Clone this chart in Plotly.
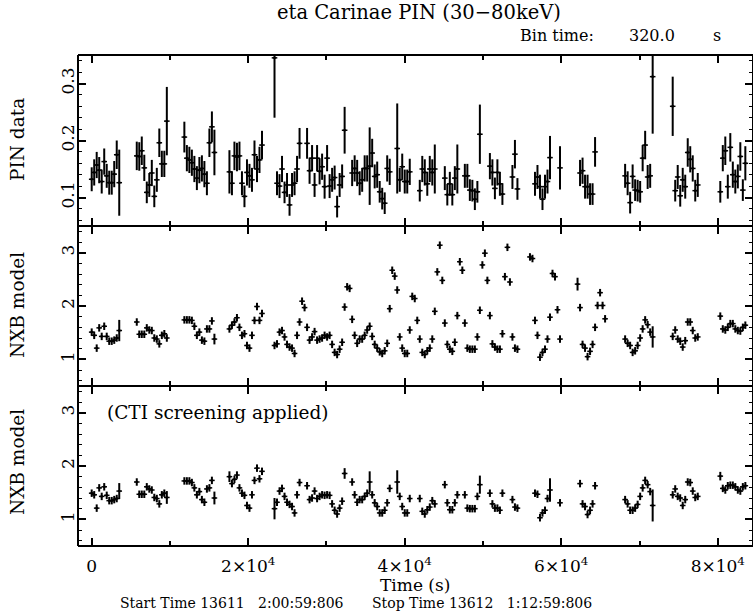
import plotly.graph_objects as go
from plotly.subplots import make_subplots

bin_time = 320.0  # s

# first time bin of each stretch that survives the screening (PIN and CTI panels)
kept_start = [0, 18, 37, 55, 73, 86, 104, 122, 131, 141, 149, 159, 168, 177, 187, 195, 213, 232, 251]

pin_rate = [
    [0.132, 0.144, 0.157, 0.148, 0.128, 0.163, 0.138, 0.126, 0.126, 0.141, 0.175, 0.126],
    [0.173, 0.172, 0.182, 0.152, 0.109, 0.122, 0.143, 0.102, 0.131, 0.196, 0.159, 0.159, 0.234],
    [0.206, 0.169, 0.166, 0.161, 0.150, 0.134, 0.148, 0.151, 0.141, 0.125, 0.196, 0.224, 0.179],
    [0.145, 0.125, 0.173, 0.171, 0.173, 0.125, 0.102, 0.144, 0.138, 0.131, 0.175, 0.150, 0.166, 0.192],
    [0.345, 0.125, 0.120, 0.150, 0.109, 0.122, 0.087, 0.122, 0.125, 0.150, 0.195],
    [0.195, 0.147, 0.169, 0.122, 0.169, 0.146, 0.154, 0.119, 0.169, 0.120, 0.131, 0.135, 0.084, 0.122, 0.137, 0.218],
    [0.143, 0.151, 0.143, 0.125, 0.131, 0.151, 0.151, 0.155, 0.178, 0.137, 0.140, 0.110, 0.098, 0.090, 0.151, 0.145],
    [0.186, 0.131, 0.154, 0.128, 0.128, 0.145],
    [0.112, 0.150, 0.144, 0.124, 0.150, 0.144, 0.150],
    [0.134, 0.105, 0.124, 0.105, 0.134, 0.150],
    [0.138, 0.138, 0.113, 0.112, 0.097, 0.110, 0.211],
    [0.155, 0.144, 0.116, 0.144, 0.124, 0.106],
    [0.136, 0.176, 0.115],
    [0.124, 0.136, 0.119, 0.097, 0.119, 0.128, 0.170],
    [0.152],
    [0.143, 0.147, 0.119, 0.119, 0.106, 0.106, 0.180],
    [0.138, 0.125, 0.091, 0.137, 0.113, 0.112, 0.110, 0.169, 0.192, 0.136, 0.138, 0.312],
    [0.260, 0.112, 0.136, 0.103, 0.131, 0.119, 0.179, 0.167, 0.151, 0.112, 0.122],
    [0.110, 0.169, 0.182, 0.119, 0.188, 0.140, 0.128, 0.137, 0.172, 0.113, 0.160],
]

pin_err = [
    [0.021, 0.023, 0.023, 0.023, 0.021, 0.023, 0.021, 0.021, 0.021, 0.023, 0.025, 0.058],
    [0.025, 0.025, 0.025, 0.023, 0.019, 0.021, 0.023, 0.019, 0.021, 0.025, 0.023, 0.023, 0.060],
    [0.027, 0.023, 0.023, 0.023, 0.023, 0.021, 0.023, 0.023, 0.023, 0.021, 0.025, 0.027, 0.040],
    [0.038, 0.021, 0.025, 0.025, 0.025, 0.021, 0.019, 0.023, 0.021, 0.021, 0.025, 0.023, 0.023, 0.025],
    [0.105, 0.021, 0.021, 0.023, 0.019, 0.021, 0.019, 0.021, 0.021, 0.023, 0.027],
    [0.027, 0.023, 0.023, 0.021, 0.023, 0.023, 0.023, 0.021, 0.023, 0.021, 0.021, 0.021, 0.019, 0.021, 0.021, 0.041],
    [0.023, 0.023, 0.023, 0.021, 0.021, 0.023, 0.023, 0.068, 0.025, 0.021, 0.023, 0.019, 0.019, 0.019, 0.023, 0.023],
    [0.079, 0.021, 0.023, 0.021, 0.021, 0.023],
    [0.019, 0.023, 0.023, 0.021, 0.023, 0.023, 0.043],
    [0.021, 0.019, 0.021, 0.019, 0.021, 0.043],
    [0.021, 0.021, 0.019, 0.019, 0.019, 0.019, 0.052],
    [0.023, 0.023, 0.019, 0.023, 0.021, 0.019],
    [0.021, 0.025, 0.019],
    [0.021, 0.021, 0.021, 0.019, 0.021, 0.021, 0.038],
    [0.038],
    [0.023, 0.023, 0.021, 0.021, 0.019, 0.019, 0.026],
    [0.021, 0.021, 0.019, 0.021, 0.019, 0.019, 0.019, 0.023, 0.025, 0.021, 0.021, 0.100],
    [0.052, 0.019, 0.021, 0.019, 0.021, 0.021, 0.025, 0.023, 0.023, 0.019, 0.021],
    [0.019, 0.023, 0.025, 0.021, 0.025, 0.023, 0.021, 0.021, 0.025, 0.019, 0.030],
]

# NXB model, all bins
nxb_start = [0, 18, 37, 55, 73, 175, 194, 213, 232, 251]
nxb = [
    [1.51, 1.45, 1.21, 1.59, 1.43, 1.62, 1.43, 1.34, 1.34, 1.36, 1.40, 1.54],
    [1.70, 1.47, 1.47, 1.47, 1.59, 1.55, 1.54, 1.40, 1.38, 1.29, 1.45, 1.48, 1.40],
    [1.74, 1.74, 1.74, 1.73, 1.62, 1.45, 1.51, 1.36, 1.34, 1.57, 1.57, 1.72, 1.38],
    [1.57, 1.64, 1.70, 1.78, 1.60, 1.45, 1.48, 1.26, 1.21, 1.45, 1.73, 1.99, 1.73, 1.86],
    [1.26, 1.29, 1.51, 1.54, 1.42, 1.28, 1.23, 1.21, 1.11, 1.45,
     1.70, 2.09, 1.97, 1.60, 1.36, 1.42, 1.52, 1.36, 1.38, 1.40,
     1.45, 1.42, 1.45, 1.28, 1.13, 1.09, 1.19, 1.32, 1.98, 2.36,
     2.33, 1.75, 1.45, 1.30, 1.38, 1.38, 1.45, 1.55, 1.62, 1.43,
     1.28, 1.21, 1.14, 1.11, 1.16, 1.30, 1.95, 2.67, 2.56, 2.30,
     1.42, 1.21, 1.11, 1.11, 1.55, 2.18, 2.14, 1.73, 1.38, 1.13,
     1.09, 1.16, 1.21, 1.38, 1.90, 2.64, 3.14, 2.48, 1.68, 1.28,
     1.19, 1.15, 1.32, 1.82, 2.83, 2.67, 1.68, 1.21, 1.19, 1.19,
     1.19, 1.42, 1.92, 2.77, 2.99, 2.48, 1.82, 1.29, 1.23, 1.19,
     1.19, 1.48, 2.55, 3.10, 2.45, 1.42, 1.21, 1.19],
    [2.92, 2.89, 1.73, 1.45, 1.04, 1.13, 1.19, 1.38, 1.79, 2.61, 2.55, 1.93, 1.38],
    [2.41, 1.97, 1.28, 1.21, 1.05, 1.15, 1.28, 1.60, 2.01, 2.25, 2.01, 1.76],
    [1.38, 1.30, 1.26, 1.13, 1.16, 1.26, 1.40, 1.57, 1.74, 1.65, 1.51, 1.42],
    [1.43, 1.55, 1.38, 1.34, 1.23, 1.35, 1.70, 1.70, 1.54, 1.40, 1.42],
    [1.81, 1.57, 1.55, 1.60, 1.67, 1.67, 1.57, 1.54, 1.53, 1.60, 1.64],
]
nxb_err_typ = 0.07
nxb_err_wide = {11: 0.20, 49: 0.10, 194: 0.12, 224: 0.20}

# NXB model after CTI screening (same bins as PIN)
cti_nxb = [
    [1.49, 1.46, 1.21, 1.59, 1.43, 1.61, 1.45, 1.35, 1.35, 1.37, 1.39, 1.53],
    [1.70, 1.47, 1.47, 1.47, 1.61, 1.57, 1.55, 1.41, 1.39, 1.29, 1.46, 1.49, 1.41],
    [1.72, 1.72, 1.72, 1.69, 1.59, 1.46, 1.52, 1.37, 1.32, 1.57, 1.59, 1.73, 1.40],
    [1.80, 1.67, 1.75, 1.83, 1.59, 1.49, 1.45, 1.26, 1.21, 1.46, 1.73, 1.96, 1.76, 1.90],
    [1.20, 1.32, 1.53, 1.58, 1.43, 1.32, 1.28, 1.24, 1.12, 1.46, 1.69],
    [1.63, 1.37, 1.40, 1.53, 1.39, 1.43, 1.46, 1.45, 1.46, 1.45, 1.29, 1.17, 1.10, 1.21, 1.34, 1.86],
    [1.70, 1.46, 1.32, 1.37, 1.37, 1.43, 1.49, 1.70, 1.46, 1.31, 1.24, 1.12, 1.12, 1.17, 1.31, 1.58],
    [1.70, 1.43, 1.24, 1.12, 1.12, 1.39],
    [1.39, 1.15, 1.10, 1.18, 1.23, 1.35, 1.29],
    [1.65, 1.31, 1.18, 1.18, 1.31, 1.46],
    [1.46, 1.21, 1.20, 1.20, 1.20, 1.43, 1.65],
    [1.49, 1.29, 1.21, 1.21, 1.17, 1.49],
    [1.37, 1.23, 1.21],
    [1.49, 1.47, 1.03, 1.12, 1.17, 1.39, 1.55],
    [1.31],
    [1.67, 1.29, 1.24, 1.09, 1.17, 1.29, 1.63],
    [1.37, 1.29, 1.17, 1.17, 1.21, 1.28, 1.43, 1.59, 1.73, 1.65, 1.52, 1.26],
    [1.46, 1.57, 1.43, 1.40, 1.26, 1.37, 1.70, 1.69, 1.53, 1.41, 1.43],
    [1.81, 1.58, 1.55, 1.63, 1.64, 1.64, 1.61, 1.55, 1.53, 1.61, 1.63],
]
cti_err_typ = 0.07
cti_err_wide = {11: 0.15, 30: 0.12, 49: 0.12, 55: 0.10, 73: 0.20, 101: 0.10,
                111: 0.20, 122: 0.22, 155: 0.17, 183: 0.22, 224: 0.30, 251: 0.08}

FONT = "DejaVu Serif"
L, R, T, B = 78, 753, 55, 546
ROW_H = [171, 160, 160]


def px(x):
    return (x - L) / (R - L)


def py(y):
    return (B - y) / (B - T)


def unroll(starts, segs):
    bins, vals = [], []
    for s, seg in zip(starts, segs):
        for i, v in enumerate(seg):
            bins.append(s + i)
            vals.append(v)
    return bins, vals


fig = make_subplots(rows=3, cols=1, shared_xaxes=True, vertical_spacing=0,
                    row_heights=ROW_H)


def add_lc(row, bins, vals, errs):
    fig.add_trace(go.Scatter(
        x=[b * bin_time for b in bins], y=vals, mode="markers",
        marker=dict(symbol="line-ew", size=4, line=dict(width=1.5, color="black"), color="black"),
        error_y=dict(type="data", array=errs, color="black", thickness=2, width=0),
        error_x=dict(type="constant", value=bin_time / 2, color="black", thickness=2, width=0),
        showlegend=False, hoverinfo="skip"), row=row, col=1)


b1, v1 = unroll(kept_start, pin_rate)
add_lc(1, b1, v1, unroll(kept_start, pin_err)[1])

b2, v2 = unroll(nxb_start, nxb)
add_lc(2, b2, v2, [nxb_err_wide.get(b, nxb_err_typ) for b in b2])

b3, v3 = unroll(kept_start, cti_nxb)
add_lc(3, b3, v3, [cti_err_wide.get(b, cti_err_typ) for b in b3])

# frame lines are drawn as shapes so the shared panel edges stay one line thick
axis_common = dict(
    showline=False, mirror="ticks",
    ticks="inside", ticklen=8, tickwidth=1.5, tickcolor="black",
    showgrid=False, zeroline=False,
    tickfont=dict(family=FONT, size=17, color="black"),
)

for r in (1, 2, 3):
    fig.update_xaxes(
        range=[-1750, 84500], tickmode="array",
        tickvals=[0, 20000, 40000, 60000, 80000],
        ticktext=["0", "2×10<sup>4</sup>", "4×10<sup>4</sup>", "6×10<sup>4</sup>", "8×10<sup>4</sup>"],
        minor=dict(ticks="inside", dtick=10000, tick0=0, ticklen=5, tickwidth=1.5, tickcolor="black"),
        ticklabelstandoff=8,
        row=r, col=1, **axis_common)

fig.update_yaxes(range=[0.05, 0.35], tickmode="array", tickvals=[0.1, 0.2, 0.3],
                 ticktext=["0.1", "0.2", "0.3"], tickangle=-90,
                 minor=dict(ticks="inside", dtick=0.02, tick0=0, ticklen=4, tickwidth=1, tickcolor="black"),
                 row=1, col=1, **axis_common)
for r in (2, 3):
    fig.update_yaxes(range=[0.5, 3.5], tickmode="array", tickvals=[1, 2, 3],
                     ticktext=["1", "2", "3"], tickangle=-90,
                     minor=dict(ticks="inside", dtick=0.2, tick0=0, ticklen=4, tickwidth=1, tickcolor="black"),
                     row=r, col=1, **axis_common)

edges = [T, T + ROW_H[0], T + ROW_H[0] + ROW_H[1], B]
for e in edges:
    fig.add_shape(type="line", xref="paper", yref="paper", x0=0, x1=1, y0=py(e), y1=py(e),
                  line=dict(color="black", width=2), layer="above")
for xe in (0, 1):
    fig.add_shape(type="line", xref="paper", yref="paper", x0=xe, x1=xe, y0=0, y1=1,
                  line=dict(color="black", width=2), layer="above")


def label(text, x, y, size=17, xanchor="center", angle=0):
    fig.add_annotation(text=text, x=px(x), y=py(y), xref="paper", yref="paper",
                       xanchor=xanchor, yanchor="middle", showarrow=False, textangle=angle,
                       font=dict(family=FONT, size=size, color="black"))


label("eta Carinae PIN (30−80keV)", 419, 13, size=19.5)
label("Bin time:", 518, 35, size=16, xanchor="left")
label("320.0", 627, 35, size=16, xanchor="left")
label("s", 711, 35, size=16, xanchor="left")
label("PIN data", 17, 140, size=18.5, angle=-90)
label("NXB model", 17, 305, size=18.5, angle=-90)
label("NXB model", 17, 462, size=18.5, angle=-90)
label("(CTI screening applied)", 105, 412, size=18.5, xanchor="left")
label("Time (s)", 415, 585)
label("Start Time 13611   2:00:59:806", 118, 603, size=14, xanchor="left")
label("Stop Time 13612   1:12:59:806", 370, 603, size=14, xanchor="left")

fig.update_layout(
    width=753, height=611,
    margin=dict(l=L, r=0, t=T, b=611 - B),
    plot_bgcolor="white", paper_bgcolor="white",
)

fig.write_html("out.html", config={"displayModeBar": False},
               post_script="document.body.style.margin='0';")
